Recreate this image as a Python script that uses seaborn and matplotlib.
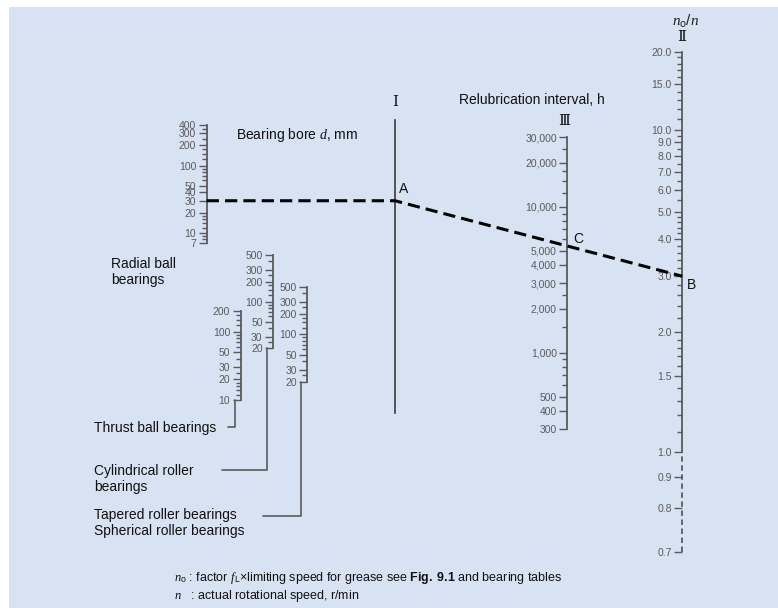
import numpy as np
import seaborn as sns
import matplotlib.pyplot as plt
from matplotlib.patches import Rectangle
from matplotlib.ticker import FixedLocator, FixedFormatter, NullFormatter

W, H = 778, 608

# bearing bore scales, mm
radial_ticks = [7, 10, 20, 30, 40, 50, 100, 200, 300, 400]
radial_minor = [8, 9, 12, 14, 16, 18, 60, 70, 80, 90, 125, 150, 175, 250, 350]
thrust_ticks = [10, 20, 30, 50, 100, 200]
thrust_minor = [12, 14, 16, 18, 25, 40, 60, 70, 80, 90, 125, 150, 175]
cyl_ticks = [20, 30, 50, 100, 200, 300, 500]
cyl_minor = [25, 40, 60, 70, 80, 90, 125, 150, 175, 250, 400]
taper_ticks = [20, 30, 50, 100, 200, 300, 500]
taper_minor = [25, 40, 60, 70, 80, 90, 125, 150, 175, 250, 400]

# relubrication interval, h
interval_ticks = [300, 400, 500, 1000, 2000, 3000, 4000, 5000, 10000, 20000, 30000]
interval_minor = [600, 700, 800, 900, 1500, 2500, 6000, 7000, 8000, 9000, 12500, 15000, 17500, 25000]

# n0/n
ratio_ticks = [0.7, 0.8, 0.9, 1.0, 1.5, 2.0, 3.0, 4.0, 5.0, 6.0, 7.0, 8.0, 9.0, 10.0, 15.0, 20.0]
ratio_minor = [1.1, 1.2, 1.3, 1.4, 1.6, 1.7, 1.8, 1.9, 2.2, 2.4, 2.6, 2.8, 3.2, 3.4, 3.6, 3.8,
               4.2, 4.4, 4.6, 4.8, 5.5, 6.5, 7.5, 8.5, 9.5, 11, 12, 13, 14, 16, 17, 18, 19]

# worked example
example_bore = 30
example_ratio = 3.0

sns.set_theme(style="ticks")
plt.rcParams['font.family'] = ['Liberation Sans', 'DejaVu Sans']
plt.rcParams['mathtext.fontset'] = 'custom'
plt.rcParams['mathtext.rm'] = 'Liberation Sans'
plt.rcParams['mathtext.it'] = 'Liberation Serif:italic'
plt.rcParams['mathtext.bf'] = 'Liberation Sans:bold'

GREY = "#5a5a5a"
fig = plt.figure(figsize=(W / 100, H / 100), dpi=100)
fig.patch.set_facecolor("white")
fig.patches.append(Rectangle((9 / W, 0), 1, 1 - 7 / H, transform=fig.transFigure,
                             facecolor="#d7e2f3", edgecolor="none", zorder=-10))

ov = fig.add_axes([0, 0, 1, 1])
ov.set_xlim(0, W)
ov.set_ylim(H, 0)
ov.axis("off")
ov.set_zorder(5)


def scale_axes(x, y_top, y_bot, lo, hi, ticks, minor, labels, functions=None):
    ax = fig.add_axes([x / W, 1 - y_bot / H, 0.0005, (y_bot - y_top) / H])
    ax.set_facecolor("none")
    if functions is None:
        ax.set_yscale("log")
    else:
        ax.set_yscale("function", functions=functions)
    ax.set_ylim(lo, hi)
    ax.set_xlim(0, 1)
    for s in ["right", "top", "bottom"]:
        ax.spines[s].set_visible(False)
    ax.spines["left"].set_color(GREY)
    ax.spines["left"].set_linewidth(1.3)
    ax.set_xticks([])
    ax.yaxis.set_major_locator(FixedLocator(ticks))
    ax.yaxis.set_major_formatter(FixedFormatter(labels))
    ax.yaxis.set_minor_locator(FixedLocator(minor))
    ax.yaxis.set_minor_formatter(NullFormatter())
    ax.tick_params(axis="y", which="major", length=6, width=1, color=GREY,
                   labelsize=7.5, labelcolor=GREY, pad=1.5)
    ax.tick_params(axis="y", which="minor", length=3.5, width=1, color=GREY)
    return ax


def to_px(ax, v):
    return ov.transData.inverted().transform(ax.transData.transform((0, v)))


ax_rad = scale_axes(206.7, 125, 243.3, 7, 400, radial_ticks, radial_minor,
                    [str(v) for v in radial_ticks])
ax_thr = scale_axes(240.7, 311, 400, 10, 200, thrust_ticks, thrust_minor,
                    [str(v) for v in thrust_ticks])
ax_cyl = scale_axes(273, 255, 348.3, 20, 500, cyl_ticks, cyl_minor,
                    [str(v) for v in cyl_ticks])
ax_tap = scale_axes(307.3, 286.7, 381.7, 20, 500, taper_ticks, taper_minor,
                    [str(v) for v in taper_ticks])
ax_int = scale_axes(567.3, 137.3, 429, 300, 30000, interval_ticks, interval_minor,
                    [f"{v:,}" for v in interval_ticks])
ratio_fn = (lambda v: np.log10(np.clip(np.asarray(v) - 0.5, 1e-6, None)),
            lambda u: 10 ** np.asarray(u) + 0.5)
ax_rat = scale_axes(682.3, 51.7, 552.3, 0.7, 20, ratio_ticks, ratio_minor,
                    [f"{v:.1f}" for v in ratio_ticks], functions=ratio_fn)
ax_rat.spines["left"].set_bounds(1.0, 20)
ax_rat.plot([0, 0], [0.7, 1.0], color=GREY, lw=1.3, ls=(0, (3, 2)), clip_on=False)

# pivot line I
ax_I = fig.add_axes([395 / W, 1 - 413 / H, 0.0005, (413 - 120) / H])
ax_I.set_facecolor("none")
for s in ["right", "top", "bottom"]:
    ax_I.spines[s].set_visible(False)
ax_I.spines["left"].set_color("#3a3a3a")
ax_I.spines["left"].set_linewidth(1.2)
ax_I.set_xticks([])
ax_I.set_yticks([])
xI = ov.transData.inverted().transform(ax_I.transAxes.transform((0, 0)))[0]

# example path
p0 = to_px(ax_rad, example_bore)
pB = to_px(ax_rat, example_ratio)
pA = np.array([xI, p0[1]])
xs = [p0[0], pA[0], pB[0]]
ys = [p0[1], pA[1], pB[1]]
sns.lineplot(x=xs, y=ys, ax=ov, sort=False, color="black", lw=2.2,
             dashes=False, ls=(0, (4, 2)))
xC = to_px(ax_int, 1000)[0]
yC = np.interp(xC, [pA[0], pB[0]], [pA[1], pB[1]])

ov.text(pA[0] + 4, pA[1] - 12, "A", fontsize=10, color="#111", va="center")
ov.text(xC + 6, yC - 7, "C", fontsize=10, color="#111", va="center")
ov.text(pB[0] + 5, pB[1] + 9, "B", fontsize=10, color="#111", va="center")

# leader lines
def leader(ax, lo, y_end, x_end):
    p = to_px(ax, lo)
    xl = p[0] - 6
    ov.plot([xl, xl, x_end], [p[1], y_end, y_end], color=GREY, lw=1.2)

leader(ax_thr, 10, 427, 228)
leader(ax_cyl, 20, 470, 222)
leader(ax_tap, 20, 516, 263)

# texts
ov.text(111, 272, "Radial ball\nbearings", fontsize=10, color="#111", va="center",
        linespacing=1.25)
ov.text(94, 428, "Thrust ball bearings", fontsize=10, color="#111", va="center")
ov.text(94, 479, "Cylindrical roller\nbearings", fontsize=10, color="#111", va="center",
        linespacing=1.25)
ov.text(94, 523, "Tapered roller bearings\nSpherical roller bearings", fontsize=10,
        color="#111", va="center", linespacing=1.1)
ov.text(236, 135, "Bearing bore $d$, mm", fontsize=10, color="#111", va="center")
ov.text(459, 100, "Relubrication interval, h", fontsize=10, color="#111", va="center")
ov.text(xI, 102, "Ⅰ", fontsize=11, color="#111", ha="center", va="center",
        family=["DejaVu Serif", "Noto Sans CJK JP"])
ov.text(564, 121, "Ⅲ", fontsize=11, color="#111", ha="center", va="center",
        family=["DejaVu Serif", "Noto Sans CJK JP"])
ov.text(682, 37, "Ⅱ", fontsize=11, color="#111", ha="center", va="center",
        family=["DejaVu Serif", "Noto Sans CJK JP"])
ov.text(686, 21, r"$n_\mathrm{o}/n$", fontsize=11, color="#222", ha="center", va="center")

ov.text(174, 578, r"$n_\mathrm{o}$ : factor $f_\mathrm{L}$×limiting speed for grease see "
        r"$\mathbf{Fig.\ 9.1}$ and bearing tables", fontsize=9, color="#111", va="center")
ov.text(174, 596, r"$n$   : actual rotational speed, r/min", fontsize=9, color="#111",
        va="center")

fig.savefig("out.png", dpi=100)
